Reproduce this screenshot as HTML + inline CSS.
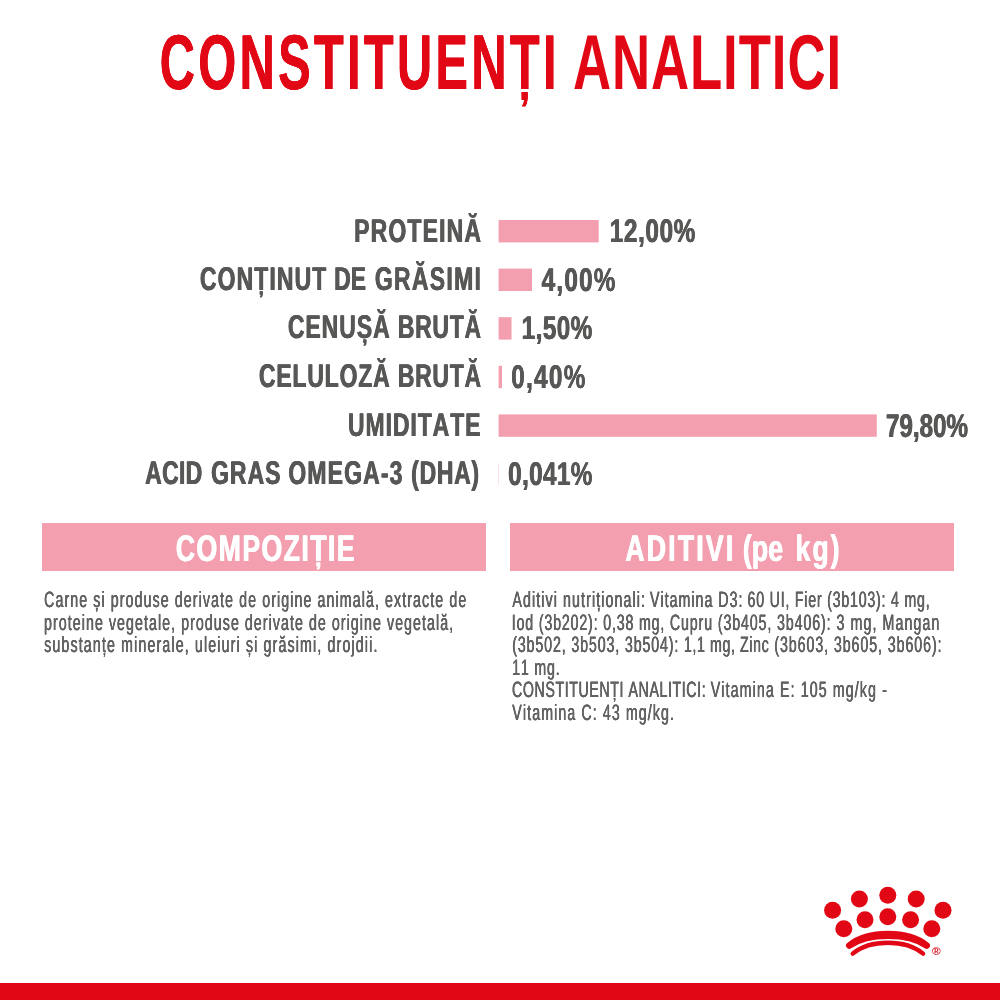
<!DOCTYPE html>
<html lang="ro">
<head>
<meta charset="utf-8">
<title>Constituenți analitici</title>
<style>
  html, body { margin: 0; padding: 0; background: #ffffff; overflow: hidden; }
  body { width: 1000px; height: 1000px; overflow: hidden; position: relative;
         font-family: "Liberation Sans", sans-serif; }
  .t { position: absolute; left: 0; top: 0; margin: 0; padding: 0; white-space: pre; line-height: 1;
       transform-origin: 0 0; font-kerning: none; text-rendering: geometricPrecision; }
  .title { font-weight: 700; font-size: 77.6px; color: #E20714; }
  .label { font-weight: 700; font-size: 32.8px; color: #575756; text-shadow: 0.500px 0 0 #575756, -0.500px 0 0 #575756; }
  .value { font-weight: 700; font-size: 32.8px; color: #575756; text-shadow: 0.473px 0 0 #575756, -0.473px 0 0 #575756; }
  .head { font-weight: 700; font-size: 37.0px; color: #ffffff; text-shadow: 0.556px 0 0 #ffffff, -0.556px 0 0 #ffffff; }
  .p { font-weight: 400; font-size: 22.2px; color: #626262; text-shadow: 0.312px 0 0 #626262, -0.312px 0 0 #626262; }
  .g { margin: 0; padding: 0; font-size: 0; line-height: 0; }
  .t { display: block; }
  svg.gfx { position: absolute; left: 0; top: 0; display: block; }
</style>
</head>
<body>
<svg class="gfx" width="1000" height="1000" viewBox="0 0 1000 1000">
<g class="bars" fill="#F39FAF">
  <rect x="498.6" y="220.0" width="100.1" height="22.4"/>
  <rect x="498.6" y="268.6" width="33.4" height="22.4"/>
  <rect x="498.6" y="317.2" width="12.9" height="22.4"/>
  <rect x="498.6" y="365.8" width="3.4" height="22.4"/>
  <rect x="498.6" y="414.4" width="378.2" height="22.4"/>
  <rect x="498.6" y="463.0" width="0.3" height="22.4"/>
</g>
<g class="boxes" fill="#F39FAF">
  <rect x="42" y="523" width="444" height="48"/>
  <rect x="510" y="523" width="444" height="48"/>
</g>
<g class="crown" fill="#E20714" stroke="none">
  <circle cx="832.6" cy="910.2" r="8.5"/>
  <circle cx="859.4" cy="899.0" r="8.5"/>
  <circle cx="887.8" cy="895.2" r="8.5"/>
  <circle cx="916.2" cy="899.0" r="8.5"/>
  <circle cx="943.0" cy="910.2" r="8.5"/>
  <circle cx="843.8" cy="928.8" r="8.5"/>
  <circle cx="865.0" cy="919.7" r="8.5"/>
  <circle cx="887.8" cy="916.8" r="8.5"/>
  <circle cx="910.6" cy="919.7" r="8.5"/>
  <circle cx="931.8" cy="928.8" r="8.5"/>
  <path d="M849.3 945.5 A48 27.8 0 0 1 926.7 945.5 A48 23.9 0 0 0 849.3 945.5 Z" stroke="#E20714" stroke-width="6.6" stroke-linejoin="round"/>
  <path d="M852.7 953.6 A44 27.1 0 0 1 923.1 953.6" fill="none" stroke="#E20714" stroke-width="4.4" stroke-linecap="round"/>
  <text font-family="Liberation Sans, sans-serif" font-size="11.8" font-weight="700" fill="#DA0F1D" x="936.4" y="954.9" text-anchor="middle">®</text>
</g>
<rect class="footer" x="0" y="983" width="1000" height="17" fill="#E20714"/>
</svg>
<h1 class="g"><span class="t title" style="transform:translate(159.72px,25px) scaleX(0.63);letter-spacing:5.135px;text-shadow:0.238px 0 0 #E20714,-0.238px 0 0 #E20714">CONSTITUENȚI</span> <span class="t title" style="transform:translate(572.92px,25px) scaleX(0.68);letter-spacing:1.346px;text-shadow:none">ANALITICI</span></h1>
<section class="chart">
<div class="g"><span class="t label" style="transform:translate(354.14px,215px) scaleX(0.7);letter-spacing:1.682px">PROTEINĂ</span></div>
<div class="g"><span class="t label" style="transform:translate(199.93px,263px) scaleX(0.7);letter-spacing:1.578px">CONȚINUT</span> <span class="t label" style="transform:translate(334.18px,263px) scaleX(0.7);letter-spacing:-0.031px">DE</span> <span class="t label" style="transform:translate(374.85px,263px) scaleX(0.7);letter-spacing:1.860px">GRĂSIMI</span></div>
<div class="g"><span class="t label" style="transform:translate(287.88px,311px) scaleX(0.7);letter-spacing:1.373px">CENUȘĂ</span> <span class="t label" style="transform:translate(397.84px,311px) scaleX(0.7);letter-spacing:1.043px">BRUTĂ</span></div>
<div class="g"><span class="t label" style="transform:translate(258.88px,360px) scaleX(0.7);letter-spacing:1.184px">CELULOZĂ</span> <span class="t label" style="transform:translate(397.84px,360px) scaleX(0.7);letter-spacing:1.043px">BRUTĂ</span></div>
<div class="g"><span class="t label" style="transform:translate(348.00px,409px) scaleX(0.7);letter-spacing:1.348px">UMIDITATE</span></div>
<div class="g"><span class="t label" style="transform:translate(145.20px,457px) scaleX(0.7);letter-spacing:0.452px">ACID</span> <span class="t label" style="transform:translate(211.04px,457px) scaleX(0.7);letter-spacing:1.475px">GRAS</span> <span class="t label" style="transform:translate(288.32px,457px) scaleX(0.7);letter-spacing:1.673px">OMEGA-3</span> <span class="t label" style="transform:translate(411.19px,457px) scaleX(0.7);letter-spacing:1.032px">(DHA)</span></div>
<div class="g"><span class="t value" style="transform:translate(609.74px,215px) scaleX(0.74);letter-spacing:0.875px">12,00%</span></div>
<div class="g"><span class="t value" style="transform:translate(541.66px,264px) scaleX(0.74);letter-spacing:1.634px">4,00%</span></div>
<div class="g"><span class="t value" style="transform:translate(521.63px,312px) scaleX(0.74);letter-spacing:0.627px">1,50%</span></div>
<div class="g"><span class="t value" style="transform:translate(511.25px,361px) scaleX(0.74);letter-spacing:1.776px">0,40%</span></div>
<div class="g"><span class="t value" style="transform:translate(885.96px,410px) scaleX(0.74);letter-spacing:-0.073px">79,80%</span></div>
<div class="g"><span class="t value" style="transform:translate(508.20px,458px) scaleX(0.74);letter-spacing:0.489px">0,041%</span></div>
</section>
<section class="info">
<h2 class="g"><span class="t head" style="transform:translate(175.83px,530px) scaleX(0.72);letter-spacing:2.004px">COMPOZIȚIE</span></h2>
<h2 class="g"><span class="t head" style="transform:translate(625.30px,530px) scaleX(0.72);letter-spacing:3.057px">ADITIVI</span> <span class="t head" style="transform:translate(742.84px,530px) scaleX(0.72);letter-spacing:0.177px">(pe</span> <span class="t head" style="transform:translate(795.59px,530px) scaleX(0.72);letter-spacing:2.774px">kg)</span></h2>
<p class="g"><span class="t p" style="transform:translate(44.11px,589px) scaleX(0.64);letter-spacing:1.713px">Carne și produse derivate de origine animală, extracte de</span></p>
<p class="g"><span class="t p" style="transform:translate(44.07px,612px) scaleX(0.64);letter-spacing:1.663px">proteine vegetale, produse derivate de origine vegetală,</span></p>
<p class="g"><span class="t p" style="transform:translate(44.13px,634px) scaleX(0.64);letter-spacing:1.791px">substanțe minerale, uleiuri și grăsimi, drojdii.</span></p>
<p class="g"><span class="t p" style="transform:translate(512.41px,589px) scaleX(0.64);letter-spacing:1.724px">Aditivi nutriționali:</span> <span class="t p" style="transform:translate(650.00px,589px) scaleX(0.64);letter-spacing:1.588px">Vitamina D3:</span> <span class="t p" style="transform:translate(747.57px,589px) scaleX(0.64);letter-spacing:1.217px">60 UI, Fier (3b103): 4 mg,</span></p>
<p class="g"><span class="t p" style="transform:translate(511.80px,612px) scaleX(0.64);letter-spacing:1.307px">Iod (3b202): 0,38 mg,</span> <span class="t p" style="transform:translate(669.91px,612px) scaleX(0.64);letter-spacing:1.388px">Cupru (3b405, 3b406):</span> <span class="t p" style="transform:translate(836.57px,612px) scaleX(0.64);letter-spacing:1.695px">3 mg, Mangan</span></p>
<p class="g"><span class="t p" style="transform:translate(512.22px,634px) scaleX(0.64);letter-spacing:1.375px">(3b502, 3b503, 3b504):</span> <span class="t p" style="transform:translate(683.89px,634px) scaleX(0.64);letter-spacing:0.953px">1,1 mg, Zinc</span> <span class="t p" style="transform:translate(774.36px,634px) scaleX(0.64);letter-spacing:1.454px">(3b603, 3b605, 3b606):</span></p>
<p class="g"><span class="t p" style="transform:translate(512.16px,657px) scaleX(0.64);letter-spacing:1.289px">11 mg.</span></p>
<p class="g"><span class="t p" style="transform:translate(512.07px,679px) scaleX(0.64);letter-spacing:0.915px">CONSTITUENȚI ANALITICI:</span> <span class="t p" style="transform:translate(710.72px,679px) scaleX(0.64);letter-spacing:1.750px">Vitamina E: 105 mg/kg -</span></p>
<p class="g"><span class="t p" style="transform:translate(512.32px,702px) scaleX(0.64);letter-spacing:1.717px">Vitamina C: 43 mg/kg.</span></p>
</section>
</body>
</html>
